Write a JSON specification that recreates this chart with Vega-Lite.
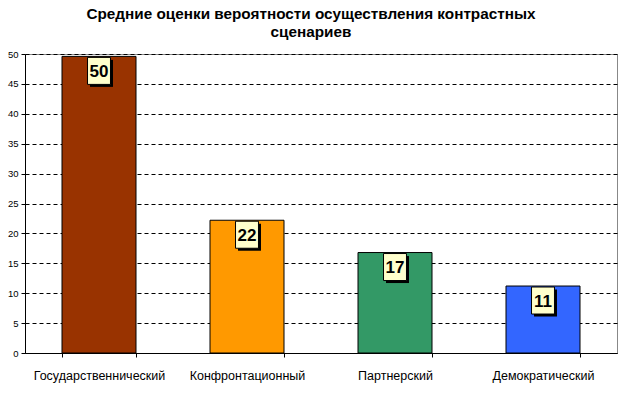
{
  "$schema": "https://vega.github.io/schema/vega-lite/v6.json",
  "autosize": {"type": "none"},
  "padding": {"left": 25, "top": 54, "right": 7, "bottom": 40},
  "width": 592,
  "height": 299,
  "background": "white",
  "title": {
    "text": ["Средние оценки вероятности осуществления контрастных", "сценариев"],
    "font": "Arial, Liberation Sans",
    "fontSize": 15.3,
    "fontWeight": "bold",
    "color": "black",
    "lineHeight": 18,
    "anchor": "middle",
    "dx": -10,
    "offset": 9
  },
  "config": {
    "view": {"stroke": "#888888", "strokeWidth": 1},
    "axis": {"labelFont": "Arial, Liberation Sans", "labelColor": "black", "domainColor": "black", "tickColor": "black", "titleFont": "Arial, Liberation Sans"}
  },
  "data": {
    "values": [
      {"scenario": "Государственнический", "value": 49.6},
      {"scenario": "Конфронтационный", "value": 22.2},
      {"scenario": "Партнерский", "value": 16.8},
      {"scenario": "Демократический", "value": 11.2}
    ]
  },
  "encoding": {
    "x": {
      "field": "scenario", "type": "nominal", "sort": null,
      "scale": {"paddingInner": 0.5, "paddingOuter": 0.25},
      "axis": {"title": null, "labelAngle": 0, "labelFontSize": 12.5, "labelPadding": 12, "tickBand": "extent", "tickSize": 4, "grid": false}
    },
    "y": {
      "field": "value", "type": "quantitative",
      "scale": {"domain": [0, 50], "nice": false},
      "axis": {"title": null, "values": [0,5,10,15,20,25,30,35,40,45,50], "labelFontSize": 9.5, "tickSize": 4, "labelPadding": 3, "grid": true, "gridColor": "black", "gridDash": [4, 3], "gridOpacity": 1}
    }
  },
  "layer": [
    {
      "mark": {"type": "bar", "stroke": "black", "strokeWidth": 1},
      "encoding": {
        "color": {
          "field": "scenario", "type": "nominal", "sort": null, "legend": null,
          "scale": {"domain": ["Государственнический", "Конфронтационный", "Партнерский", "Демократический"], "range": ["#993300", "#FF9900", "#339966", "#3366FF"]}
        }
      }
    },
    {
      "mark": {"type": "point", "shape": "M-0.85,-1H0.85V1H-0.85Z", "size": 729, "filled": true, "fill": "black", "opacity": 1, "xOffset": 2.5, "yOffset": 17}
    },
    {
      "mark": {"type": "point", "shape": "M-0.85,-1H0.85V1H-0.85Z", "size": 729, "filled": true, "fill": "#FFFFCC", "stroke": "black", "strokeWidth": 1, "opacity": 1, "yOffset": 14.5}
    },
    {
      "mark": {"type": "text", "font": "Arial, Liberation Sans", "fontSize": 17, "fontWeight": "bold", "color": "black", "baseline": "middle", "yOffset": 15.5},
      "encoding": {"text": {"field": "value", "type": "quantitative", "format": ".0f"}}
    }
  ]
}
